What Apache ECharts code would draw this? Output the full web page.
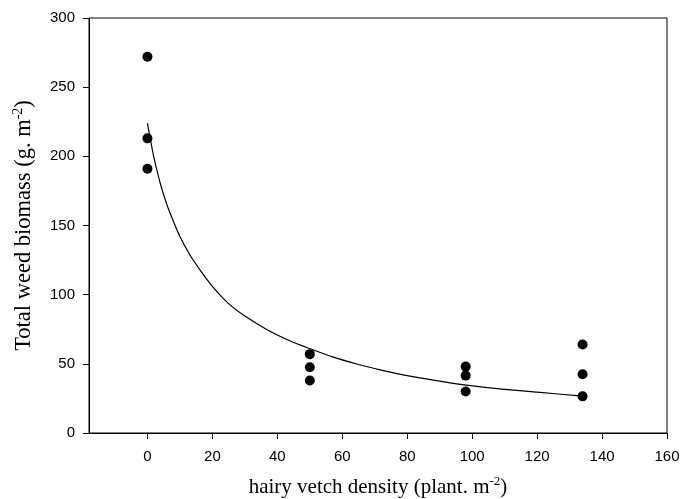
<!DOCTYPE html>
<html>
<head>
<meta charset="utf-8">
<script src="https://cdn.jsdelivr.net/npm/echarts@6/dist/echarts.min.js"></script>
<style>html,body{margin:0;padding:0;background:#fff}#c{width:680px;height:499px}</style>
</head>
<body>
<div id="c"></div>
<script>
// Observed points: [density, biomass]
var obsX = [0, 0, 0, 50, 50, 50, 98, 98, 98, 134, 134, 134];
var obsY = [272, 213, 191, 57, 47.5, 38, 48, 41.5, 30, 64, 42.5, 26.5];
// Fitted curve
var fitX = [0, 1, 2, 4, 6, 8, 10, 13, 16, 20, 25, 30, 37, 44, 50, 57, 65, 72, 80, 90, 97, 110, 120, 134];
var fitY = [224, 211, 199, 180, 165, 153, 142, 129, 118.5, 106, 93.5, 84.5, 74.5, 66.5, 61, 55, 49.5, 45.5, 41.5, 37.5, 35, 31.5, 29.5, 26.7];
var xTicks = [0, 20, 40, 60, 80, 100, 120, 140, 160];
var yTicks = [0, 50, 100, 150, 200, 250, 300];

var scatterData = obsX.map(function (x, i) { return [x, obsY[i]]; });
var lineData = fitX.map(function (x, i) { return [x, fitY[i]]; });

var chart = echarts.init(document.getElementById('c'));
var labelFont = { fontFamily: 'Liberation Sans', fontSize: 15, color: '#000' };
function rich(size) {
  return {
    a: { fontFamily: 'Liberation Serif', fontSize: size, color: '#000' },
    s: { fontFamily: 'Liberation Serif', fontSize: Math.round(size * 0.62), color: '#000', verticalAlign: 'top', padding: [0, 0, 12, 0] }
  };
}
chart.setOption({
  animation: false,
  grid: { left: 89, right: 13, top: 18, bottom: 66, show: true, borderColor: '#000', borderWidth: 1, containLabel: false, outerBoundsMode: 'none' },
  xAxis: {
    type: 'value', min: -18, max: 160,
    axisLine: { show: true, onZero: false, lineStyle: { color: '#000', width: 1 } },
    axisTick: { show: true, length: 6, inside: false, customValues: xTicks, lineStyle: { color: '#000' } },
    axisLabel: Object.assign({ margin: 16, customValues: xTicks }, labelFont),
    splitLine: { show: false },
    name: '{a|hairy vetch density (plant. m}{s|-2}{a|)}',
    nameLocation: 'middle', nameGap: 42,
    nameTextStyle: { rich: rich(21) }
  },
  yAxis: {
    type: 'value', min: 0, max: 300, interval: 50,
    axisLine: { show: true, onZero: false, lineStyle: { color: '#000', width: 1 } },
    axisTick: { show: true, length: 6, inside: false, lineStyle: { color: '#000' } },
    axisLabel: Object.assign({ margin: 14 }, labelFont),
    splitLine: { show: false },
    name: '{a|Total weed biomass (g. m}{s|-2}{a|)}',
    nameLocation: 'middle', nameGap: 52,
    nameTextStyle: { rich: rich(22.5) }
  },
  series: [
    {
      type: 'line', data: lineData, smooth: 0.25, showSymbol: false, symbol: 'none',
      lineStyle: { color: '#000', width: 1.2 }, z: 2
    },
    {
      type: 'scatter', data: scatterData, symbol: 'circle', symbolSize: 10,
      itemStyle: { color: '#000', opacity: 1 }, z: 3
    }
  ]
});
</script>
</body>
</html>
